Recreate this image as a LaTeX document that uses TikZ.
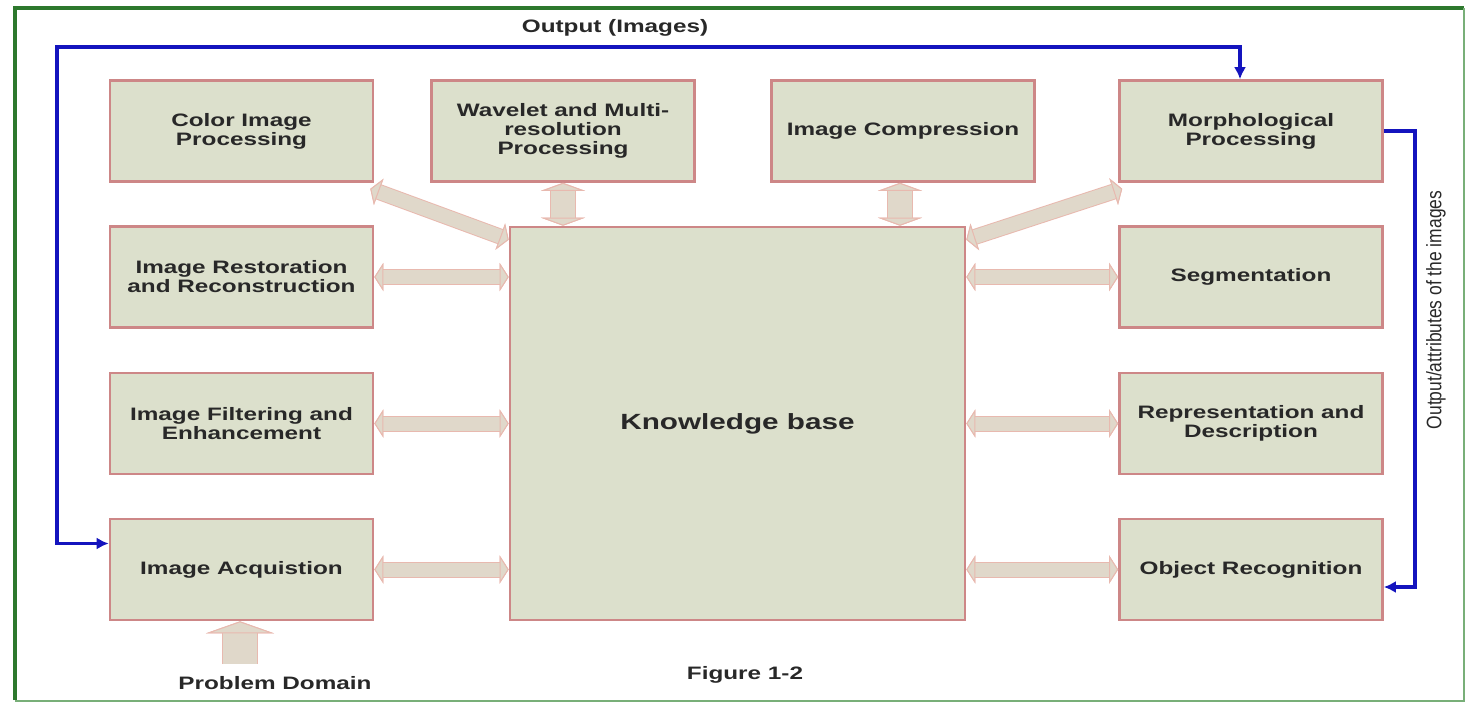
\documentclass[tikz,border=0pt]{standalone}
\usepackage{fontspec}
\setmainfont{Liberation Sans}[FakeStretch=1.35]
\newfontfamily\etroite{Liberation Sans}[FakeStretch=0.83]
\usetikzlibrary{arrows.meta}

\definecolor{fondboite}{RGB}{220,224,204}
\definecolor{bordboite}{RGB}{205,135,135}
\definecolor{texte}{RGB}{40,40,40}
\definecolor{bleu}{RGB}{20,20,190}
\definecolor{vert}{RGB}{45,120,45}
\definecolor{vertclair}{RGB}{120,175,120}
\definecolor{fatfill}{RGB}{224,216,202}
\definecolor{fatline}{RGB}{232,185,175}

\begin{document}
\begin{tikzpicture}[x=0.5pt,y=-0.5pt]
	\tikzset{boite/.style={draw=bordboite, fill=fondboite, line width=1.3pt, minimum width=131.5pt, minimum height=50.5pt, align=center, text=texte, font=\bfseries\fontsize{9}{9.5}\selectfont},
		etiquette/.style={text=texte, inner sep=1pt, font=\bfseries\fontsize{9}{10}\selectfont},
		fleche/.style={draw=fatfill, line width=7pt, preaction={draw=fatline, line width=8pt}, {Triangle[width=14pt, length=4.5pt, fill=fatfill, color=fatline, line width=0.5pt]}-{Triangle[width=14pt, length=4.5pt, fill=fatfill, color=fatline, line width=0.5pt]}},
		flechev/.style={draw=fatfill, line width=12pt, preaction={draw=fatline, line width=13pt}, {Triangle[width=22pt, length=4pt, fill=fatfill, color=fatline, line width=0.5pt]}-{Triangle[width=22pt, length=4pt, fill=fatfill, color=fatline, line width=0.5pt]}},
		flecheun/.style={draw=fatfill, line width=17pt, preaction={draw=fatline, line width=18pt}, -{Triangle[width=34pt, length=6pt, fill=fatfill, color=fatline, line width=0.5pt]}},
		retour/.style={draw=bleu, line width=1.8pt, >={Latex[length=6pt, width=6pt]}}};

	\useasboundingbox (0,0) rectangle (1468,703);

	% cadre
	\draw[vert, line width=2pt] (15,700) -- (15,8) -- (1464,8);
	\draw[vertclair, line width=1.2pt] (1464,8) -- (1464,701) -- (15,701);

	\node[boite] (ci) at (241.5, 131) {Color Image\\Processing};
	\node[boite] (wv) at (  563, 131) {Wavelet and Multi-\\resolution\\Processing};
	\node[boite] (ic) at (  903, 131) {Image Compression};
	\node[boite] (mp) at ( 1251, 131) {Morphological\\Processing};

	\node[boite] (ir) at (241.5, 277) {Image Restoration\\and Reconstruction};
	\node[boite] (ie) at (241.5, 423.5) {Image Filtering and\\Enhancement};
	\node[boite] (ia) at (241.5, 569.5) {Image Acquistion};

	\node[boite] (sg) at ( 1251, 277) {Segmentation};
	\node[boite] (rd) at ( 1251, 423.5) {Representation and\\Description};
	\node[boite] (or) at ( 1251, 569.5) {Object Recognition};

	\node[boite, minimum width=227.5pt, minimum height=196.5pt, font=\bfseries\fontsize{11}{12}\selectfont] (kb) at (737.5, 423.5) {Knowledge base};

	\node[etiquette] (sortie) at (615, 28) {Output (Images)};
	\node[etiquette] (pd) at (275, 683) {Problem Domain};
	\node[etiquette] (fig) at (745, 675) {Figure 1-2};
	\node[text=texte, rotate=90, inner sep=1pt, font=\etroite\fontsize{10.5}{11}\selectfont] (attr) at (1436, 310) {Output/attributes of the images};

	% fleches vers la base
	\draw[fleche] (ir.east) to (kb.west |- ir.east);
	\draw[fleche] (ie.east) to (kb.west |- ie.east);
	\draw[fleche] (ia.east) to (kb.west |- ia.east);
	\draw[fleche] (kb.east |- sg.west) to (sg.west);
	\draw[fleche] (kb.east |- rd.west) to (rd.west);
	\draw[fleche] (kb.east |- or.west) to (or.west);
	\draw[flechev] (wv.south) to (wv.south |- kb.north);
	\draw[flechev] ([xshift=-1.5pt]ic.south) to ([xshift=-1.5pt]ic.south |- kb.north);
	\draw[fleche] ([xshift=-2pt,yshift=-3pt]ci.south east) to ([yshift=-7pt]kb.north west);
	\draw[fleche] ([xshift=2pt,yshift=-3pt]mp.south west) to ([yshift=-7pt]kb.north east);

	\coordinate (pdq) at (240, 664);
	\draw[flecheun] (pdq) to (pdq |- ia.south);

	% retours
	\draw[retour, <->] ([yshift=13pt]ia.west) -| (57, 47) -| ([xshift=-5.5pt]mp.north);
	\draw[retour, ->] (mp.east) -| (1415, 400) |- ([yshift=-8.75pt]or.east);

\end{tikzpicture}
\end{document}
